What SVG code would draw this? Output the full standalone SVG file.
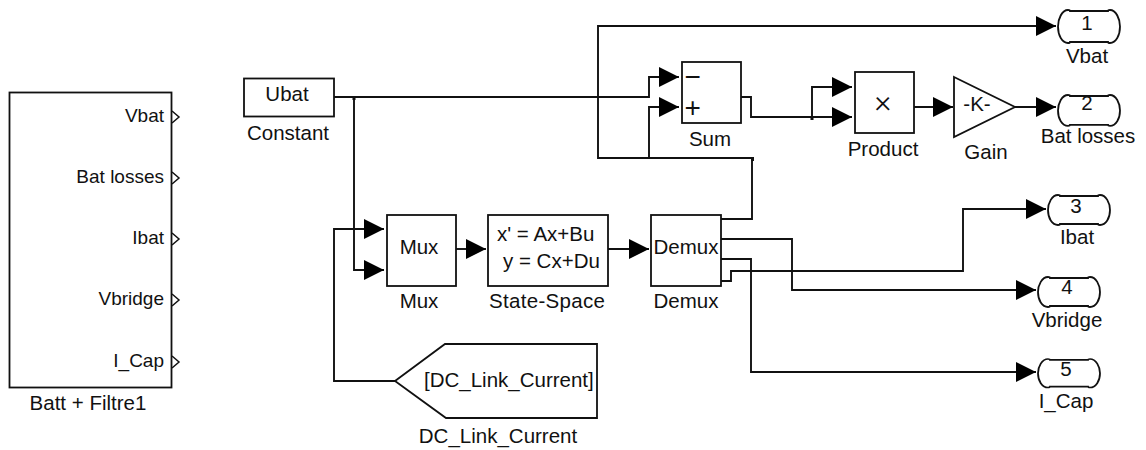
<svg xmlns="http://www.w3.org/2000/svg" width="1146" height="450" viewBox="0 0 1146 450">
<style>
text{font-family:"Liberation Sans",Arial,sans-serif;font-size:20.5px;fill:#111}
.m{text-anchor:middle}
.e{text-anchor:end}
.s{font-size:19px}
.b{fill:#fff;stroke:#111;stroke-width:1.8}
.w{fill:none;stroke:#111;stroke-width:1.9}
.a{marker-end:url(#arrow)}
.p{fill:none;stroke:#111;stroke-width:1.5}
.x{font-family:Roboto,"Liberation Sans",sans-serif;font-weight:300;font-size:32px}
</style>
<defs>
<marker id="arrow" markerUnits="userSpaceOnUse" markerWidth="20" markerHeight="22" refX="20" refY="11" orient="auto"><path d="M0 1L20 11L0 21Z" fill="#000"/></marker>
<path id="port" d="M12 1H50C50 0 51 0 52 0C58 0 62 8 62 15C62 23 58 30 52 30C51 30 50 30 50 29H12C12 30 11 30 10 30C4 30 0 23 0 15C0 8 4 0 10 0C11 0 12 0 12 1Z" class="b"/>
<path id="chev" d="M0 -6L7 0L0 6" class="p"/>
</defs>
<g id="connectors">
<path class="w" d="M334 97H649V77H660"/>
<path class="w a" d="M649 77H679"/>
<path class="w a" d="M649 158V107H679"/>
<path class="w a" d="M354 97V270H384"/>
<path class="w a" d="M395 381H334V229H384"/>
<path class="w a" d="M456 249H486"/>
<path class="w a" d="M608 249H649"/>
<path class="w a" d="M721 219H752V158H598V26H1056"/>
<path class="w a" d="M741 97H751V117H852"/>
<path class="w a" d="M812 117V87H852"/>
<path class="w a" d="M914 107H953"/>
<path class="w a" d="M1015 107H1056"/>
<path class="w a" d="M721 281H731V271H963V209H1046"/>
<path class="w a" d="M721 239H792V290H1036"/>
<path class="w a" d="M721 259H751V372H1036"/>
<rect x="352.500" y="97" width="3" height="3" fill="#111"/>
<rect x="810.500" y="116" width="3" height="4" fill="#111"/>
<rect x="751" y="157" width="3" height="4" fill="#111"/>
</g>
<g id="batt">
<rect class="b" x="9.500" y="92.500" width="162" height="295"/>
<use href="#chev" x="172" y="117"/><use href="#chev" x="172" y="178"/><use href="#chev" x="172" y="239"/><use href="#chev" x="172" y="300"/><use href="#chev" x="172" y="362"/>
<text class="e s" x="164" y="122">Vbat</text>
<text class="e s" x="164" y="183">Bat losses</text>
<text class="e s" x="164" y="244">Ibat</text>
<text class="e s" x="164" y="305">Vbridge</text>
<text class="e s" x="164" y="367">I_Cap</text>
<text class="m" x="88" y="410">Batt + Filtre1</text>
</g>
<g id="constant">
<rect class="b" x="244" y="78.500" width="90" height="38"/>
<text class="m" x="287" y="101">Ubat</text>
<text class="m" x="288" y="140">Constant</text>
</g>
<g id="sum">
<rect class="b" x="682" y="62" width="59" height="61"/>
<text x="684.500" y="86" style="font-size:28px">−</text>
<text x="684.500" y="117" style="font-size:28px">+</text>
<text class="m" x="710" y="146">Sum</text>
</g>
<g id="product">
<rect class="b" x="855" y="72" width="59" height="61"/>
<text class="m x" x="883" y="112">×</text>
<text class="m" x="883" y="156">Product</text>
</g>
<g id="gain">
<path class="b" d="M954 77L1015 107L954 137Z"/>
<text class="m" x="977" y="111">-K-</text>
<text class="m" x="986" y="159">Gain</text>
</g>
<g id="mux">
<rect class="b" x="387" y="215" width="69" height="71"/>
<text class="m" x="419" y="254">Mux</text>
<text class="m" x="419" y="308">Mux</text>
</g>
<g id="statespace">
<rect class="b" x="488" y="215" width="120" height="71"/>
<text x="497" y="241">x' = Ax+Bu</text>
<text x="503" y="268">y = Cx+Du</text>
<text class="m" x="547" y="308" textLength="116">State-Space</text>
</g>
<g id="demux">
<rect class="b" x="651" y="215" width="70" height="71"/>
<text class="m" x="686" y="254">Demux</text>
<text class="m" x="686" y="308">Demux</text>
</g>
<g id="dclink">
<path class="b" d="M395 381L445 344H597V418H446Z"/>
<text x="424" y="387">[DC_Link_Current]</text>
<text class="m" x="498" y="443">DC_Link_Current</text>
</g>
<g id="out1"><use href="#port" transform="translate(1058 10) scale(1 1.1)"/><text class="m" x="1087" y="30">1</text><text class="m" x="1087" y="63">Vbat</text></g>
<g id="out2"><use href="#port" transform="translate(1058 95) scale(1 1.03)"/><text class="m" x="1087" y="110">2</text><text class="m" x="1088" y="143">Bat losses</text></g>
<g id="out3"><use href="#port" transform="translate(1048 195)"/><text class="m" x="1076" y="213">3</text><text class="m" x="1077" y="244">Ibat</text></g>
<g id="out4"><use href="#port" transform="translate(1038 277)"/><text class="m" x="1067" y="294">4</text><text class="m" x="1067" y="327">Vbridge</text></g>
<g id="out5"><use href="#port" transform="translate(1038 359) scale(1 .95)"/><text class="m" x="1066" y="376">5</text><text class="m" x="1066" y="408">I_Cap</text></g>
</svg>
